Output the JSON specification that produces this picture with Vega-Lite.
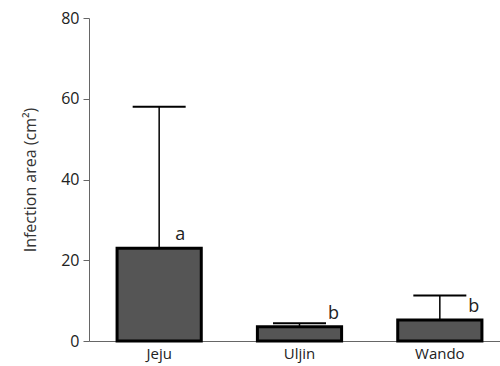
{
  "$schema": "https://vega.github.io/schema/vega-lite/v6.json",
  "autosize": {"type": "none"},
  "width": 411,
  "height": 323,
  "padding": {"left": 89, "top": 18, "right": 0, "bottom": 25},
  "background": "white",
  "config": {
    "view": {"stroke": null},
    "font": "Open Sans"
  },
  "data": {
    "values": [
      {"site": "Jeju", "mean": 23, "upper": 58, "group": "a"},
      {"site": "Uljin", "mean": 3.5, "upper": 4.4, "group": "b"},
      {"site": "Wando", "mean": 5.2, "upper": 11.3, "group": "b"}
    ]
  },
  "encoding": {
    "x": {
      "field": "site",
      "type": "nominal",
      "sort": null,
      "scale": {"range": [0, 421], "paddingInner": 0.4, "paddingOuter": 0.2},
      "axis": {
        "title": null,
        "labelAngle": 0,
        "ticks": false,
        "labelPadding": 5,
        "labelFontSize": 15,
        "labelColor": "#222222",
        "domainColor": "#666666",
        "domainWidth": 1
      }
    }
  },
  "layer": [
    {
      "mark": {"type": "rule", "color": "black", "strokeWidth": 1.5},
      "encoding": {
        "y": {"field": "mean", "type": "quantitative"},
        "y2": {"field": "upper"}
      }
    },
    {
      "mark": {"type": "tick", "orient": "horizontal", "color": "black", "size": 53, "thickness": 2, "opacity": 1},
      "encoding": {
        "y": {"field": "upper", "type": "quantitative"}
      }
    },
    {
      "mark": {"type": "bar", "fill": "#555555", "stroke": "black", "strokeWidth": 3},
      "encoding": {
        "y": {
          "field": "mean",
          "type": "quantitative",
          "scale": {"domain": [0, 80], "nice": false},
          "axis": {
            "values": [0, 20, 40, 60, 80],
            "title": "Infection area (cm²)",
            "titleFontSize": 16,
            "titleFontWeight": "normal",
            "titleColor": "#333333",
            "titlePadding": 22,
            "labelFontSize": 16,
            "labelColor": "#222222",
            "labelPadding": 4,
            "tickSize": 6,
            "tickColor": "#666666",
            "domainColor": "#666666",
            "grid": false
          }
        }
      }
    },
    {
      "transform": [{"filter": "datum.site == 'Jeju'"}],
      "mark": {"type": "text", "dx": 21, "dy": -8, "baseline": "alphabetic", "fontSize": 18, "color": "#222222"},
      "encoding": {
        "y": {"field": "mean", "type": "quantitative"},
        "text": {"field": "group"}
      }
    },
    {
      "transform": [{"filter": "datum.site != 'Jeju'"}],
      "mark": {"type": "text", "dx": 34, "dy": -8, "baseline": "alphabetic", "fontSize": 18, "color": "#222222"},
      "encoding": {
        "y": {"field": "mean", "type": "quantitative"},
        "text": {"field": "group"}
      }
    }
  ]
}
